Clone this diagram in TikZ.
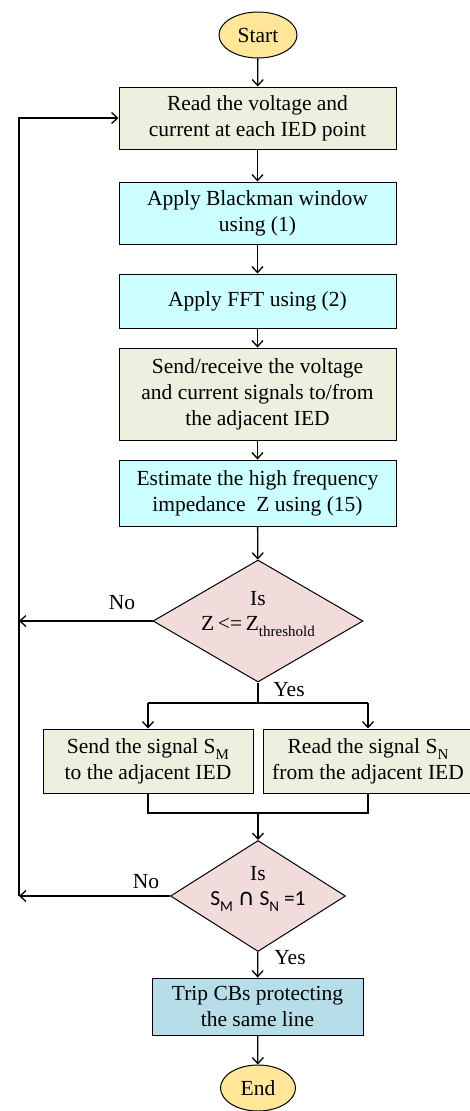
\documentclass[tikz,border=0pt]{standalone}
\usepackage{fontspec}
\setmainfont{Liberation Serif}
\newfontfamily\carl{Carlito}
\newfontfamily\djv{DejaVu Sans}
\usetikzlibrary{shapes.geometric,arrows.meta}
\newcommand{\mysub}[1]{\raisebox{-0.28em}{\fontsize{15}{15}\selectfont #1}}
\definecolor{termfill}{HTML}{FFE699}
\definecolor{greenfill}{HTML}{EBF1DE}
\definecolor{cyanfill}{HTML}{CCFFFF}
\definecolor{pinkfill}{HTML}{F2DCDB}
\definecolor{tripfill}{HTML}{B7DEE8}
\begin{document}
\begin{tikzpicture}[x=1pt,y=-1pt,
  every node/.style={font=\fontsize{21.5}{26}\selectfont},
  term/.style={ellipse,draw,line width=1pt,fill=termfill,inner sep=0pt,minimum width=78pt,minimum height=46pt},
  gbox/.style={rectangle,draw,line width=1pt,fill=greenfill,align=center,inner sep=0pt},
  cbox/.style={rectangle,draw,line width=1pt,fill=cyanfill,align=center,inner sep=0pt},
  dec/.style={diamond,draw,line width=1pt,fill=pinkfill,align=center,inner sep=0pt},
  lbl/.style={inner sep=0pt},
  arr/.style={line width=1.3pt,-{Straight Barb[length=6pt,width=11pt,line width=1.3pt]}},
  ln/.style={line width=1.3pt}]
\useasboundingbox (0,0) rectangle (470,1111);
\node[term] (start) at (258,35) {Start};
\node[gbox,minimum width=277pt,minimum height=62pt] (b1) at (257.5,118) {Read the voltage and\\current at each IED point};
\node[cbox,minimum width=277pt,minimum height=62pt] (b2) at (257.5,213) {Apply Blackman window\\using (1)};
\node[cbox,minimum width=277pt,minimum height=54pt] (b3) at (257.5,301) {Apply FFT using (2)};
\node[gbox,minimum width=277pt,minimum height=92pt] (b4) at (257.5,394) {Send/receive the voltage\\and current signals to/from\\the adjacent IED};
\node[cbox,minimum width=277pt,minimum height=66pt] (b5) at (257.5,493) {Estimate the high frequency\\impedance\ \ Z using (15)};
\node[dec,minimum width=210pt,minimum height=122pt] (d1) at (258,621) {};
\node[lbl,align=center] (d1t) at (258,614) {Is\\[-1pt] Z\,<=\,Z\mysub{threshold}};
\node[gbox,minimum width=210pt,minimum height=64pt] (b6) at (148,761) {Send the signal S\mysub{M}\\to the adjacent IED};
\node[gbox,minimum width=210pt,minimum height=64pt] (b7) at (368,761) {Read the signal S\mysub{N}\\from the adjacent IED};
\node[dec,minimum width=175pt,minimum height=111pt] (d2) at (258,896) {};
\node[lbl,align=center] (d2t) at (258,889) {Is\\[-1pt]{\carl S\mysub{M} {\djv\fontsize{23}{23}\selectfont ∩} S\mysub{N} =1}};
\node[rectangle,draw,line width=1pt,fill=tripfill,align=center,inner sep=0pt,minimum width=211pt,minimum height=57pt] (b8) at (257.5,1006.5) {Trip CBs protecting\\the same line};
\node[term,minimum width=75pt] (end) at (258,1088) {End};
% labels
\node[lbl] (no1) at (122,603) {No};
\node[lbl] (yes1) at (289,690) {Yes};
\node[lbl] (no2) at (146,882) {No};
\node[lbl] (yes2) at (290,958) {Yes};
% coordinates
\coordinate (l0) at (19,118);
\coordinate (l1) at (19,621);
\coordinate (l2) at (19,896);
\coordinate (s1) at (258,703);
\coordinate (sL) at (148,703);
\coordinate (sR) at (368,703);
\coordinate (mL) at (148,813);
\coordinate (mR) at (368,813);
\coordinate (m) at (258,813);
% connectors
\draw[arr] (start) -- (b1);
\draw[arr] (b1) -- (b2);
\draw[arr] (b2) -- (b3);
\draw[arr] (b3) -- (b4);
\draw[arr] (b4) -- (b5);
\draw[arr] (b5) -- (d1);
\draw[ln] (d1.south) -- (s1);
\draw[ln] (sL) -- (sR);
\draw[arr] (sL) -- (b6);
\draw[arr] (sR) -- (b7);
\draw[ln] (b6.south) -- (mL) -- (mR) -- (b7.south);
\draw[arr] (m) -- (d2);
\draw[arr] (d2) -- (b8);
\draw[arr] (b8) -- (end);
\draw[arr] (d1.west) -- (l1);
\draw[arr] (d2.west) -- (l2);
\draw[arr] (l2) -- (l0) -- (b1.west);
\end{tikzpicture}
\end{document}
